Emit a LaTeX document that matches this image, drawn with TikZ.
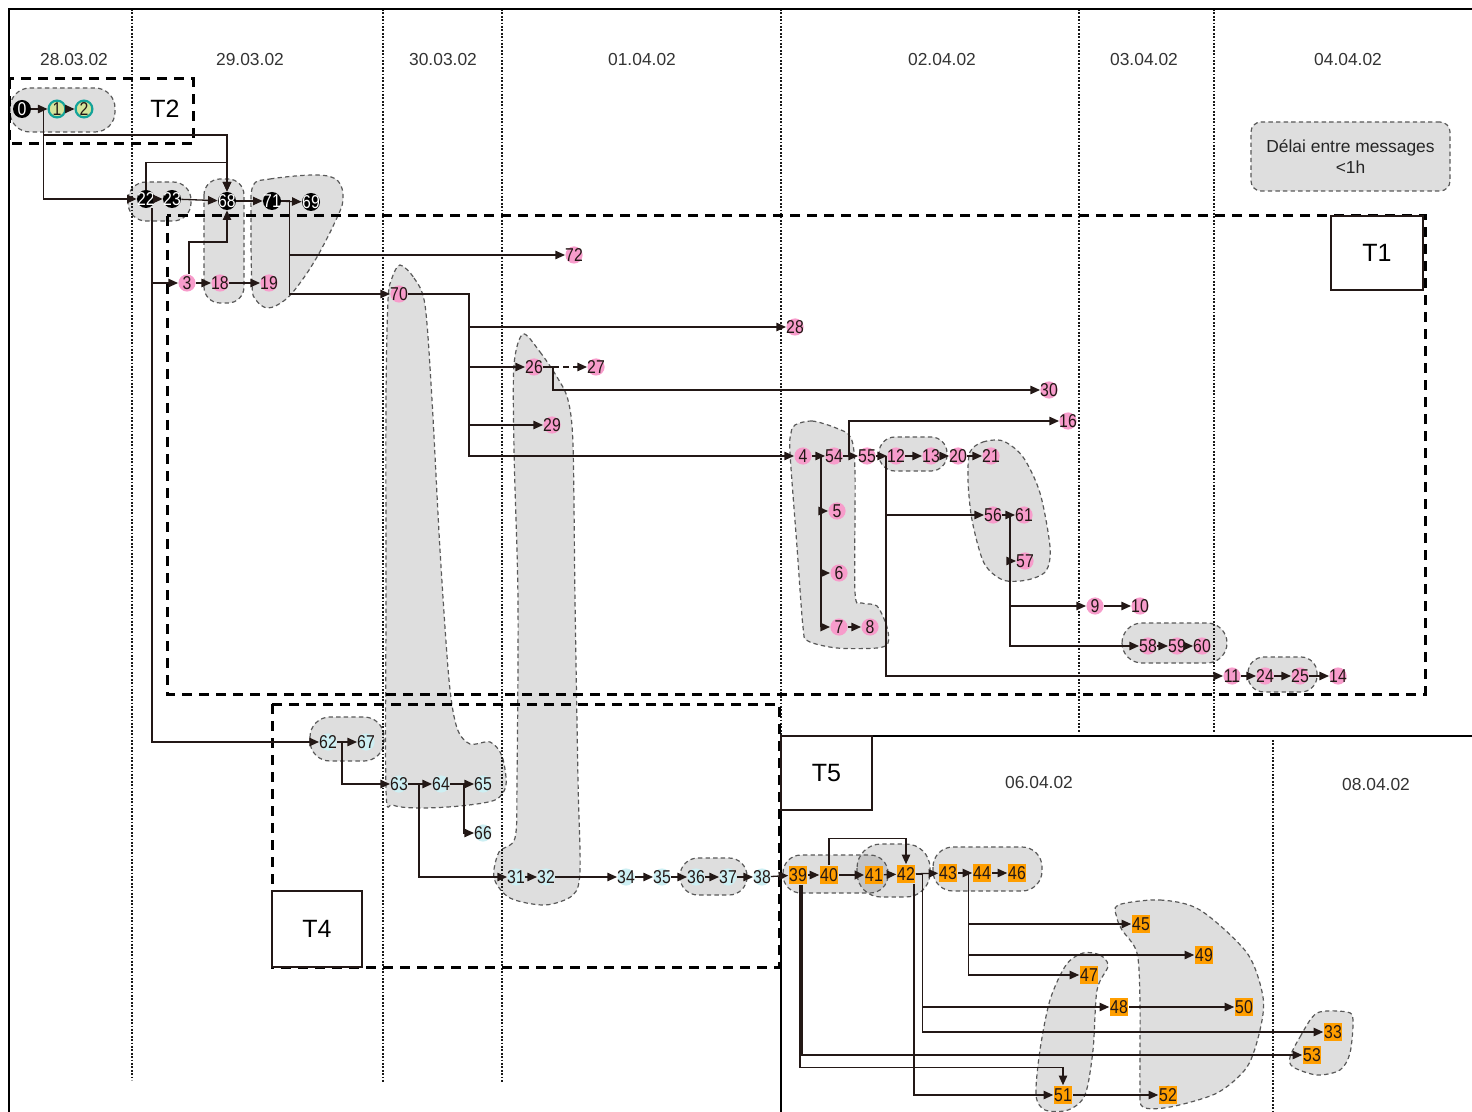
\documentclass[tikz,border=0pt]{standalone}
\usepackage{fontspec}
\setmainfont{Liberation Sans}
\newfontfamily\numfont[FakeStretch=0.85]{Liberation Sans}
\usetikzlibrary{arrows.meta}
\definecolor{pinkc}{HTML}{F79CCB}
\definecolor{orangec}{HTML}{FF9E00}
\definecolor{cyanc}{HTML}{CDEFF3}
\definecolor{tealc}{HTML}{14A39A}
\definecolor{limec}{HTML}{D4E49C}
\definecolor{blobc}{HTML}{DEDEDE}
\definecolor{blobdark}{HTML}{C4C4C4}
\definecolor{inkc}{HTML}{231816}
\tikzset{
 numf/.style={font=\numfont\fontsize{9.3pt}{9.3pt}\selectfont},
 pnode/.style={circle, fill=pinkc, inner sep=-1.4pt, minimum size=8.6pt, numf, text=inkc},
 bnode/.style={circle, fill=black, inner sep=-1.4pt, minimum size=9pt, numf, text=white},
 cnode/.style={circle, fill=cyanc, inner sep=-1.4pt, minimum size=8.6pt, numf, text=inkc},
 tnode/.style={circle, draw=tealc, line width=1.1pt, fill=limec, inner sep=-1.4pt, minimum size=8.4pt, numf, text=inkc},
 onode/.style={rectangle, fill=orangec, inner sep=0.3pt, minimum width=9pt, minimum height=9.4pt, numf, text=inkc},
 conn/.style={draw=inkc, line width=0.65pt, -{Triangle[length=4.8pt,width=4.2pt]}},
 blob/.style={fill=blobc, draw=black!65, line width=0.6pt, dash pattern=on 2.2pt off 1.6pt},
 blobline/.style={draw=black!65, line width=0.6pt, dash pattern=on 2.2pt off 1.6pt},
 daysep/.style={draw=black!90, line width=1.2pt, dash pattern=on 0.9pt off 0.8pt},
 tbox/.style={draw=black, line width=1.5pt, dash pattern=on 5pt off 3.5pt},
 tlab/.style={draw=inkc, line width=0.8pt, fill=white, font=\fontsize{12.5pt}{14pt}\selectfont},
 datef/.style={font=\fontsize{8.7pt}{10pt}\selectfont, text=black!80},
}
\begin{document}
\begin{tikzpicture}[x=0.5pt,y=-0.5pt]
\useasboundingbox (0,0) rectangle (1472,1112);

% ---------- blobs ----------
\draw[blob, rounded corners=10pt] (10,88) rectangle (115,132);
\draw[blob, rounded corners=9pt] (128,182) rectangle (191,221);
\draw[blob, rounded corners=8pt] (204,179) rectangle (244,303);
\draw[blob] plot[smooth cycle, tension=0.6] coordinates {(253,186) (270,179) (317,175) (338,181) (343,200) (335,222) (317,257) (300,283) (285,300) (268,308) (256,300) (252,285) (251,220)};
\draw[blob] plot[smooth cycle, tension=0.5] coordinates {(400,265) (414,278) (425,305) (432,400) (440,550) (449,680) (457,728) (470,744) (490,742) (502,756) (506,785) (495,800) (460,806) (420,808) (393,805) (386,790) (386,600) (386,400) (388,300) (392,278)};
\draw[blob] plot[smooth cycle, tension=0.5] coordinates {(523,334) (540,352) (557,377) (568,400) (573,445) (575,600) (578,780) (580,870) (573,895) (545,905) (510,898) (494,878) (499,852) (515,838) (517,780) (518,600) (514,450) (514,365)};
\draw[blob] plot[smooth cycle, tension=0.5] coordinates {(795,425) (812,421) (836,428) (851,438) (855,473) (855,592) (862,603) (877,606) (887,627) (888,643) (877,648) (837,648) (808,641) (803,627) (797,547) (790,453) (791,433)};
\draw[blob, rounded corners=8pt] (879,437) rectangle (947,471);
\draw[blob] plot[smooth cycle, tension=0.5] coordinates {(970,452) (983,442) (1003,441) (1023,457) (1040,493) (1050,547) (1046,571) (1027,580) (1003,580) (984,563) (972,520) (968,480)};
\draw[blob, rounded corners=10pt] (1122,623) rectangle (1227,663);
\draw[blob, rounded corners=8pt] (1248,657) rectangle (1317,692);
\draw[blob, rounded corners=10pt] (310,717) rectangle (384,761);
\draw[blob, rounded corners=9pt] (680,858) rectangle (747,895);
\fill[blobc, rounded corners=9pt] (783,855) rectangle (888,893);
\fill[blobc, rounded corners=12pt] (857,844) rectangle (930,897);
\begin{scope}
  \clip[rounded corners=9pt] (783,855) rectangle (888,893);
  \fill[blobdark, rounded corners=12pt] (857,844) rectangle (930,897);
\end{scope}
\draw[blobline, rounded corners=9pt] (783,855) rectangle (888,893);
\draw[blobline, rounded corners=12pt] (857,844) rectangle (930,897);
\draw[blob, rounded corners=10pt] (933,847) rectangle (1042,891);
\draw[blob] plot[smooth cycle, tension=0.5] coordinates {(1083,953) (1100,955) (1108,966) (1097,990) (1093,1050) (1085,1095) (1068,1110) (1045,1110) (1036,1095) (1040,1050) (1050,1000) (1066,965)};
\draw[blob] plot[smooth cycle, tension=0.5] coordinates {(1118,905) (1160,900) (1200,910) (1247,953) (1263,997) (1260,1030) (1247,1067) (1217,1093) (1170,1107) (1143,1107) (1140,1087) (1140,1003) (1137,953) (1122,930) (1117,918)};
\draw[blob] plot[smooth cycle, tension=0.5] coordinates {(1290,1057) (1300,1037) (1317,1013) (1347,1012) (1353,1020) (1350,1053) (1340,1070) (1317,1075) (1293,1067)};

% ---------- day separators ----------
\draw[daysep] (132,9) -- (132,1080);
\draw[daysep] (383,9) -- (383,1082);
\draw[daysep] (502,9) -- (502,1082);
\draw[daysep] (781,9) -- (781,736);
\draw[daysep] (1079,9) -- (1079,732);
\draw[daysep] (1214,9) -- (1214,732);
\draw[daysep] (1273,740) -- (1273,1112);

% ---------- dates ----------
\node[datef] (d1) at (74,60) {28.03.02};
\node[datef] (d2) at (250,60) {29.03.02};
\node[datef] (d3) at (443,60) {30.03.02};
\node[datef] (d4) at (642,60) {01.04.02};
\node[datef] (d5) at (942,60) {02.04.02};
\node[datef] (d6) at (1144,60) {03.04.02};
\node[datef] (d7) at (1348,60) {04.04.02};
\node[datef] (d8) at (1039,783) {06.04.02};
\node[datef] (d9) at (1376,785) {08.04.02};

% ---------- frames ----------
\draw[line width=1.3pt] (9,1112) -- (9,9) -- (1472,9);
\draw[tbox] (9,79) rectangle (193,144);
\draw[tbox] (167,216) rectangle (1425,694);
\draw[tbox] (272,704) rectangle (779,967);
\draw[line width=1.2pt] (781,1112) -- (781,736) -- (1472,736);
\node[font=\fontsize{12.5pt}{14pt}\selectfont] (t2) at (165,109) {T2};
\node[tlab, minimum width=46pt, minimum height=37pt] (t1) at (1377,253) {T1};
\node[tlab, minimum width=45pt, minimum height=38pt] (t4) at (317,929) {T4};
\node[tlab, minimum width=45.5pt, minimum height=37pt] (t5) at (826.5,773) {T5};
\node[blob, rounded corners=5pt, minimum width=99.5pt, minimum height=34.5pt, align=center,
      font=\fontsize{8.7pt}{10.5pt}\selectfont, text=black!85] (delai) at (1350.5,156.5) {D\'elai entre messages\\<1h};

% ---------- nodes ----------
\node[bnode] (n0) at (22,109) {0};
\node[tnode] (n1) at (57,109) {1};
\node[tnode] (n2) at (84,109) {2};
\node[bnode] (n22) at (146,199) {22};
\node[bnode] (n23) at (172,199) {23};
\node[bnode] (n68) at (227,201) {68};
\node[bnode] (n71) at (272,201) {71};
\node[bnode] (n69) at (311,202) {69};
\node[pnode] (n3) at (187,283) {3};
\node[pnode] (n18) at (220,283) {18};
\node[pnode] (n19) at (269,283) {19};
\node[pnode] (n72) at (574,255) {72};
\node[pnode] (n70) at (399,294) {70};
\node[pnode] (n28) at (795,327) {28};
\node[pnode] (n26) at (534,367) {26};
\node[pnode] (n27) at (596,367) {27};
\node[pnode] (n30) at (1049,390) {30};
\node[pnode] (n29) at (552,425) {29};
\node[pnode] (n16) at (1068,421) {16};
\node[pnode] (n4) at (803,456) {4};
\node[pnode] (n54) at (834,456) {54};
\node[pnode] (n55) at (867,456) {55};
\node[pnode] (n12) at (896,456) {12};
\node[pnode] (n13) at (931,456) {13};
\node[pnode] (n20) at (958,456) {20};
\node[pnode] (n21) at (991,456) {21};
\node[pnode] (n5) at (837,511) {5};
\node[pnode] (n6) at (839,573) {6};
\node[pnode] (n7) at (839,627) {7};
\node[pnode] (n8) at (870,627) {8};
\node[pnode] (n56) at (993,515) {56};
\node[pnode] (n61) at (1024,515) {61};
\node[pnode] (n57) at (1025,561) {57};
\node[pnode] (n9) at (1095,606) {9};
\node[pnode] (n10) at (1140,606) {10};
\node[pnode] (n58) at (1148,646) {58};
\node[pnode] (n59) at (1177,646) {59};
\node[pnode] (n60) at (1202,646) {60};
\node[pnode] (n11) at (1232,676) {11};
\node[pnode] (n24) at (1265,676) {24};
\node[pnode] (n25) at (1300,676) {25};
\node[pnode] (n14) at (1338,676) {14};
\node[cnode] (n62) at (328,742) {62};
\node[cnode] (n67) at (366,742) {67};
\node[cnode] (n63) at (399,784) {63};
\node[cnode] (n64) at (441,784) {64};
\node[cnode] (n65) at (483,784) {65};
\node[cnode] (n66) at (483,833) {66};
\node[cnode] (n31) at (516,877) {31};
\node[cnode] (n32) at (546,877) {32};
\node[cnode] (n34) at (626,877) {34};
\node[cnode] (n35) at (662,877) {35};
\node[cnode] (n36) at (696,877) {36};
\node[cnode] (n37) at (728,877) {37};
\node[cnode] (n38) at (762,877) {38};
\node[onode] (n39) at (798,875) {39};
\node[onode] (n40) at (829,875) {40};
\node[onode] (n41) at (874,875) {41};
\node[onode] (n42) at (906,874) {42};
\node[onode] (n43) at (948,873) {43};
\node[onode] (n44) at (982,873) {44};
\node[onode] (n46) at (1017,873) {46};
\node[onode] (n45) at (1141,924) {45};
\node[onode] (n49) at (1204,955) {49};
\node[onode] (n47) at (1089,975) {47};
\node[onode] (n48) at (1119,1007) {48};
\node[onode] (n50) at (1244,1007) {50};
\node[onode] (n33) at (1333,1032) {33};
\node[onode] (n53) at (1312,1055) {53};
\node[onode] (n51) at (1063,1095) {51};
\node[onode] (n52) at (1168,1095) {52};

% ---------- connectors ----------
\draw[conn] (n0) -- (n1);
\draw[conn] (n1) -- (n2);
\draw[conn] (n0.east) -- ++(12,0) |- (n22);
\draw[conn] (n0.east) -- ++(12,0) -- ++(0,26) -| (n68);
\draw[conn] (n22.north) -- ++(0,-27) -| (n68);
\draw[conn] (n22) -- (n23);
\draw[conn] (n23) -- (n68);
\draw[conn] (n68) -- (n71);
\draw[conn] (n71) -- (n69);
\draw[conn] ([xshift=3pt]n22.south) |- (n3);
\draw[conn] ([xshift=3pt]n22.south) |- (n62);
\draw[conn] (n3) -- (n18);
\draw[conn] (n18) -- (n19);
\draw[conn] ([xshift=1pt]n3.north) -- ++(0,-32) -| (n68);
\draw[conn] (n71.east) -- ++(8,0) |- (n72);
\draw[conn] (n71.east) -- ++(8,0) |- (n70);
\draw[conn] (n70.east) -- ++(61,0) |- (n28);
\draw[conn] (n70.east) -- ++(61,0) |- (n26);
\draw[conn] (n70.east) -- ++(61,0) |- (n29);
\draw[conn] (n70.east) -- ++(61,0) |- (n4);
\draw[conn, dash pattern=on 3pt off 2pt] (n26) -- (n27);
\draw[conn] (n26.east) -- ++(10,0) |- (n30);
\draw[conn] (n4) -- (n54);
\draw[conn, line width=0.9pt] (n4.east) -- ++(9,0) |- (n5);
\draw[conn, line width=0.9pt] (n4.east) -- ++(9,0) |- (n6);
\draw[conn, line width=0.9pt] (n4.east) -- ++(9,0) |- (n7);
\draw[conn] (n7) -- (n8);
\draw[conn] (n54) -- (n55);
\draw[conn] (n54.east) -- ++(6,0) |- (n16);
\draw[conn] (n55) -- (n12);
\draw[conn] (n12) -- (n13);
\draw[conn] (n13) -- (n20);
\draw[conn] (n20) -- (n21);
\draw[conn] ([xshift=-0.5pt]n12.west) |- (n56);
\draw[conn] ([xshift=-0.5pt]n12.west) |- (n11);
\draw[conn] (n56) -- (n61);
\draw[conn] (n56.east) -- ++(8,0) |- (n57);
\draw[conn] (n56.east) -- ++(8,0) |- (n9);
\draw[conn] (n56.east) -- ++(8,0) |- (n58);
\draw[conn] (n9) -- (n10);
\draw[conn] (n58) -- (n59);
\draw[conn] (n59) -- (n60);
\draw[conn] (n11) -- (n24);
\draw[conn] (n24) -- (n25);
\draw[conn] (n25) -- (n14);
% T4
\draw[conn] (n62) -- (n67);
\draw[conn] (n62.east) -- ++(5,0) |- (n63);
\draw[conn] (n63) -- (n64);
\draw[conn] (n64) -- (n65);
\draw[conn] (n64.east) -- ++(14,0) |- (n66);
\draw[conn] (n63.east) -- ++(11,0) |- (n31);
\draw[conn] (n31) -- (n32);
\draw[conn] (n32) -- (n34);
\draw[conn] (n34) -- (n35);
\draw[conn] (n35) -- (n36);
\draw[conn] (n36) -- (n37);
\draw[conn] (n37) -- (n38);
\draw[conn] (n38) -- (n39);
% T5
\draw[conn] (n39) -- (n40);
\draw[conn, line width=1.2pt] (n40) -- (n41);
\draw[conn] (n41) -- (n42);
\draw[conn] (n42) -- (n43);
\draw[conn] (n43) -- (n44);
\draw[conn] (n44) -- (n46);
\draw[conn] (n40.north) -- ++(0,-27) -| (n42);
\draw[conn] ([xshift=-2pt]n44.west) |- (n45);
\draw[conn] ([xshift=-2pt]n44.west) |- (n49);
\draw[conn] ([xshift=-2pt]n44.west) |- (n47);
\draw[conn] (n42.east) -- ++(7,0) |- (n48);
\draw[conn] (n42.east) -- ++(7,0) |- (n33);
\draw[conn] (n48) -- (n50);
\draw[conn] ([xshift=4pt]n42.south) |- (n51);
\draw[conn] ([xshift=2pt]n39.south) |- (n53);
\draw[conn] ([xshift=1pt]n39.south) -- ++(0,183) -| (n51);
\draw[conn] (n51) -- (n52);
\end{tikzpicture}
\end{document}
